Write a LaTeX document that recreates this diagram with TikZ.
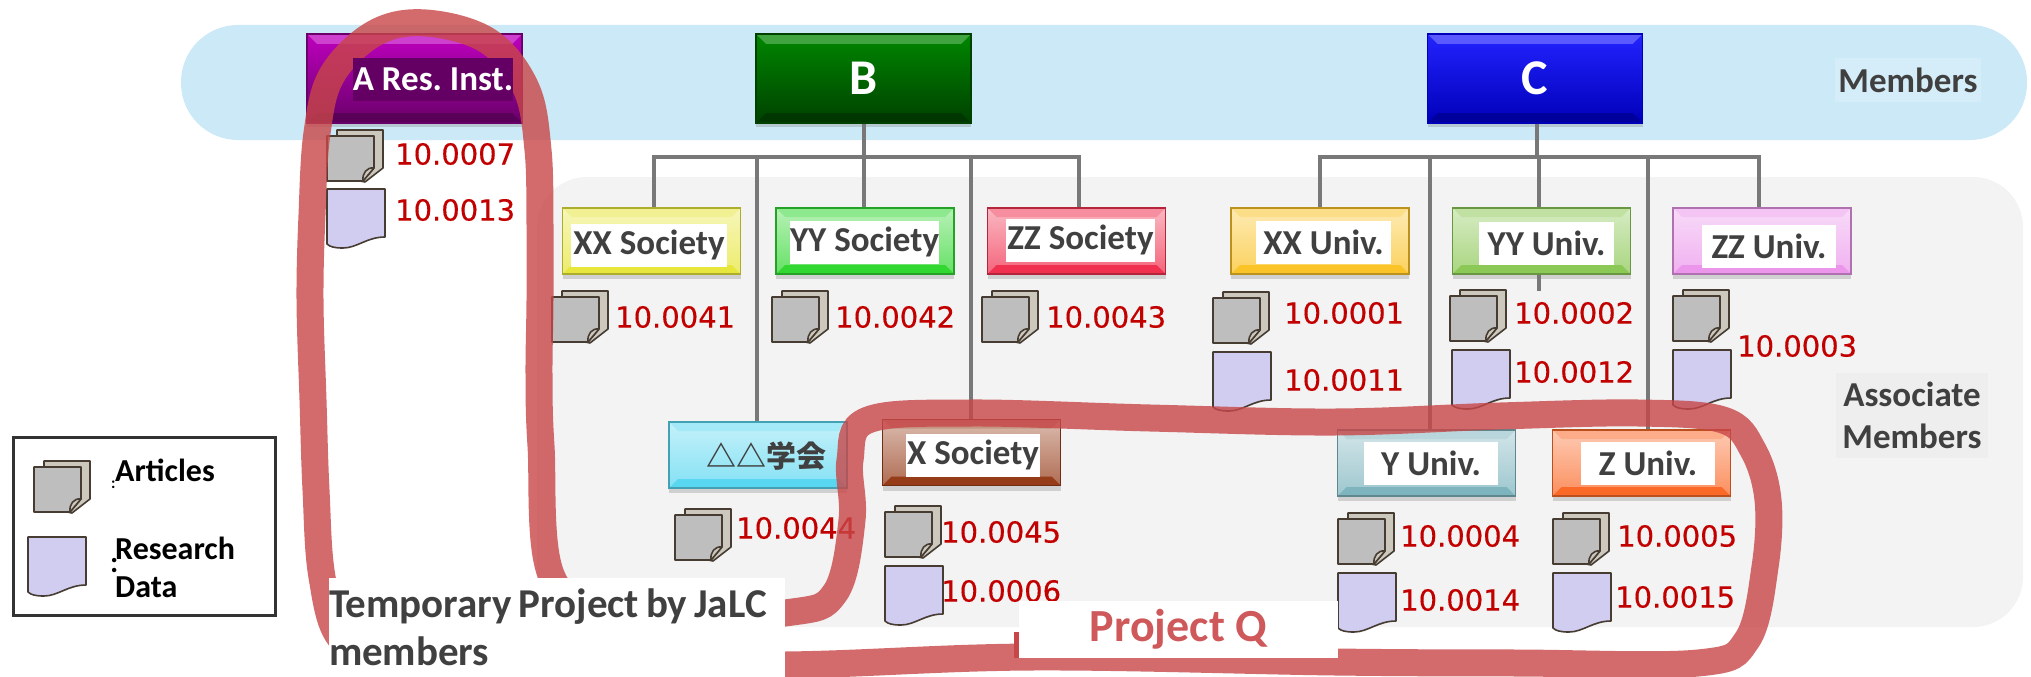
\documentclass[tikz,border=0pt]{standalone}
\usepackage{fontspec}
\setmainfont{Carlito}
\newfontfamily\doifont[FakeBold=0.4]{DejaVu Sans}
\newfontfamily\cjkfont{Noto Sans CJK JP}
\usetikzlibrary{shadows,calc}
\frenchspacing
\definecolor{bandblue}{RGB}{203,233,246}
\definecolor{panelgrey}{RGB}{243,243,243}
\definecolor{trunkgrey}{RGB}{120,120,120}
\definecolor{loopred}{RGB}{200,70,72}
\definecolor{doired}{RGB}{195,0,0}
\definecolor{labelgrey}{RGB}{64,64,64}
\definecolor{sheetgrey}{RGB}{190,190,190}
\definecolor{sheetback}{RGB}{205,200,190}
\definecolor{sheetdata}{RGB}{208,205,240}
\definecolor{sheetline}{RGB}{70,60,50}
\definecolor{cpurple}{RGB}{190,0,190}
\definecolor{dpurple}{RGB}{105,0,105}
\definecolor{cgreen}{RGB}{0,135,0}
\definecolor{dgreen}{RGB}{0,65,0}
\definecolor{cblue}{RGB}{35,35,255}
\definecolor{dblue}{RGB}{0,0,185}
\definecolor{tagpurple}{RGB}{100,0,100}
\definecolor{byellow}{RGB}{230,230,60}
\definecolor{bgreen}{RGB}{50,215,50}
\definecolor{bred}{RGB}{240,50,80}
\definecolor{bamber}{RGB}{250,195,40}
\definecolor{bleaf}{RGB}{140,200,85}
\definecolor{bpink}{RGB}{235,150,235}
\definecolor{bcyan}{RGB}{90,215,240}
\definecolor{bbrown}{RGB}{150,60,25}
\definecolor{bteal}{RGB}{125,180,190}
\definecolor{borange}{RGB}{250,105,40}
\newcommand{\bevelstrips}[3]{%
  \fill[#1] (path picture bounding box.north west) -- (path picture bounding box.north east) -- ++(-#3,#3) -- ($(path picture bounding box.north west)+(#3,#3)$) -- cycle;
  \fill[#2] (path picture bounding box.south west) -- (path picture bounding box.south east) -- ++(-#3,-#3) -- ($(path picture bounding box.south west)+(#3,-#3)$) -- cycle;}
\tikzset{
  bevel/.style={draw=#1!75!black, line width=1.2pt, top color=#1!35!white, middle color=#1!12!white, bottom color=#1!75!white, minimum width=178pt, minimum height=66pt, inner sep=0pt, path picture={\bevelstrips{#1!55!white}{#1}{9}}, drop shadow={opacity=.3,shadow xshift=0pt,shadow yshift=-5pt}},
  head/.style 2 args={draw=#2, line width=1.2pt, top color=#1, bottom color=#2, minimum width=215pt, minimum height=89pt, inner sep=0pt, text=white, font=\bfseries\fontsize{50}{56}\selectfont, path picture={\bevelstrips{#1!75!white}{#2!85!black}{10}}, drop shadow={opacity=.3,shadow xshift=0pt,shadow yshift=-4pt}},
  tag/.style={fill=white, text=labelgrey, font=\bfseries\fontsize{35}{40}\selectfont, minimum height=43pt, inner sep=0pt},
  doi/.style={anchor=west, text=doired, inner sep=0pt, font=\doifont\fontsize{29}{32}\selectfont},
  trunk/.style={draw=trunkgrey, line width=4pt},
  legend/.style={anchor=west, inner sep=0pt, text=black, font=\bfseries\fontsize{32}{36}\selectfont},
  sheet/.style={draw=sheetline, line width=1.6pt, line join=round},
  articles/.pic={
    \draw[sheet,fill=sheetback] (10,-6) -- (56,-6) -- (56,32) -- (38,46) -- (10,40) -- cycle;
    \draw[sheet,fill=sheetgrey] (0,0) -- (47,0) -- (47,32) -- (36,45) -- (0,45) -- cycle;
    \draw[sheet,fill=sheetback] (47,32) .. controls (40,31) and (35,37) .. (36,45) -- cycle;
  },
  data/.pic={
    \draw[sheet,fill=sheetdata] (0,0) -- (58,0) -- (58,48) .. controls (40,48) and (30,59) .. (16,59) .. controls (8,59) and (3,58) .. (0,55) -- cycle;
  }
}
\begin{document}
\begin{tikzpicture}[x=1pt, y=-1pt]
\useasboundingbox (0,0) rectangle (2031,677);
% bands
\fill[bandblue, rounded corners=57pt] (181,25) rectangle (2027,140);
\fill[panelgrey, rounded corners=50pt] (537,177) rectangle (2023,627);
\node[fill=white!20!bandblue, minimum width=146pt, minimum height=44pt, inner sep=0pt, text=labelgrey, font=\bfseries\fontsize{35}{38}\selectfont] (members) at (1908,80) {Members};
\node[fill=black!2!panelgrey, minimum width=152pt, minimum height=85pt, inner sep=0pt, text=labelgrey, align=center, font=\bfseries\fontsize{35}{42}\selectfont] (assoc) at (1912,415) {Associate\\Members};
% member boxes
\node[head={cpurple}{dpurple}] (ares) at (414.5,78.5) {};
\node[head={cgreen}{dgreen}] (b) at (863.5,78.5) {B};
\node[head={cblue}{dblue}] (c) at (1535,78.5) {C};
\coordinate (bjoin) at (863.5,157);
\coordinate (cjoin) at (1537,157);
% associate boxes
\node[bevel=byellow] (xxsoc) at (651.5,241) {};
\node[bevel=bgreen] (yysoc) at (865,241) {};
\node[bevel=bred] (zzsoc) at (1076.5,241) {};
\node[bevel=bamber] (xxuni) at (1320,241) {};
\node[bevel=bleaf] (yyuni) at (1541.5,241) {};
\node[bevel=bpink] (zzuni) at (1762,241) {};
\node[bevel=bcyan, font=\cjkfont\bfseries\fontsize{30}{34}\selectfont, text=labelgrey, text depth=0pt] (tritri) at (758,455) {\hspace*{16pt}△△学会};
\node[bevel=bbrown] (xsoc) at (971.5,452.5) {};
\node[bevel=bteal] (yuni) at (1426.5,463) {};
\node[bevel=borange] (zuni) at (1641.5,463) {};
% connectors
\draw[trunk] (b.south) -- (bjoin);
\foreach \to/\x in {xxsoc/654,yysoc/863.5,zzsoc/1079,tritri/757,xsoc/971} \draw[trunk] (bjoin) -| (\x,0 |- \to.north);
\draw[trunk] (c.south -| cjoin) -- (cjoin);
\foreach \to/\x in {xxuni/1320,yyuni/1539,zzuni/1759,yuni/1430,zuni/1648} \draw[trunk] (cjoin) -| (\x,0 |- \to.north);
\draw[trunk] (yyuni.south -| 1539,0) -- ++(0,16);
% icons
\foreach \x/\y in {327/136,552/297,772/297,982/297,1213/298,1450/296,1673/296,675/515,885/512,1338/519,1553/519,34/467} \pic at (\x,\y) {articles};
\foreach \x/\y in {327/189,1213/352,1452/350,1673/350,885/566,1338/573,1553/573,28/537} \pic at (\x,\y) {data};
% numbers
\foreach \id/\x/\y in {0007/395/154,0013/395/210,0041/615/317,0042/835/317,0043/1046/317,0001/1284/313,0011/1284/380,0002/1514/313,0012/1514/372,0003/1737/346,0044/736/528,0045/941/532,0006/941/591,0004/1400/536,0014/1400/600,0005/1617/536,0015/1615/597} \node[doi] (doi\id) at (\x,\y) {10.\id};
% legend
\node[draw=black!80, line width=3pt, minimum width=262pt, minimum height=178pt, inner sep=0pt] (legendbox) at (144,526) {};
\node[legend] (larticles) at (115,470) {Articles};
\node[legend] (lresearch) at (115,548) {Research};
\node[legend] (ldata) at (115,587) {Data};
\node[legend, font=\bfseries\fontsize{30}{32}\selectfont] (ldots) at (110,566) {:};
\node[legend, font=\bfseries\fontsize{16}{18}\selectfont] (ldotsa) at (111,485) {:};
% project loop
\draw[line width=27pt, loopred, opacity=.8] plot[smooth cycle, tension=.6] coordinates {(426,23) (488,41) (526,88) (538,150) (540,225) (540,300) (539,375) (541,446) (552,577) (620,622) (785,613) (835,593) (852,520) (850,460) (868,420) (971,413) (1150,418) (1335,422) (1500,416) (1638,413) (1723,420) (1753,450) (1768,500) (1765,567) (1747,640) (1698,663) (1517,663) (1335,662) (1032,657) (785,665) (560,662) (400,662) (342,640) (322,577) (316,490) (313,400) (310,300) (312,215) (317,133) (332,75) (375,33)};
\draw[line width=8pt, loopred] (1018,632) -- (1018,658);
% tags
\node[tag, fill=tagpurple, text=white, minimum width=156pt] (aresl) at (433,79.5) {A Res. Inst.};
\node[tag, minimum width=156pt] (xxsocl) at (649,245) {XX Society};
\node[tag, minimum width=147pt] (yysocl) at (864.5,242) {YY Society};
\node[tag, minimum width=149pt] (zzsocl) at (1080.5,240) {ZZ Society};
\node[tag, minimum width=135pt] (xxunil) at (1323.5,242.5) {XX Univ.};
\node[tag, minimum width=135pt] (yyunil) at (1546.5,243.5) {YY Univ.};
\node[tag, minimum width=134pt] (zzunil) at (1769,246.5) {ZZ Univ.};
\node[tag, minimum width=134pt] (xsocl) at (973,455) {X Society};
\node[tag, minimum width=134pt] (yunil) at (1431,463) {Y Univ.};
\node[tag, minimum width=134pt] (zunil) at (1648,463) {Z Univ.};
% captions
\node[fill=white, minimum width=456pt, minimum height=99pt, inner sep=0pt, text=labelgrey, text width=456pt, align=left, font=\bfseries\fontsize{41}{48}\selectfont] (temp) at (557,627.5) {\spaceskip=.17em\mbox{Temporary Project by JaLC}\\members};
\node[fill=white, minimum width=319pt, minimum height=57pt, inner sep=0pt, text=loopred!90!white, font=\bfseries\fontsize{46}{50}\selectfont] (projq) at (1178.5,629.5) {Project Q};
\end{tikzpicture}
\end{document}
